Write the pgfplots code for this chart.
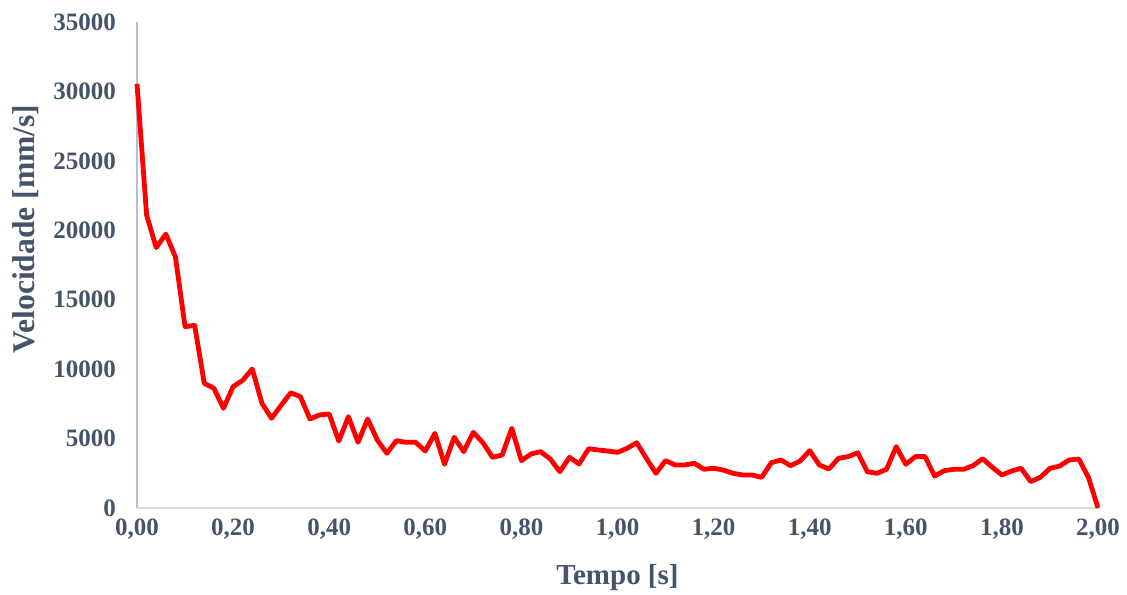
\documentclass[border=0pt]{standalone}
\usepackage{pgfplots}
\pgfplotsset{compat=1.18}
\usepackage{fontspec}
\setmainfont{Liberation Serif}
\definecolor{txt}{HTML}{44546A}
\definecolor{yax}{HTML}{B4C0D2}
\definecolor{xax}{HTML}{D9DDE3}
\begin{document}
\begin{tikzpicture}
\path[use as bounding box] (-68.5pt,-43pt) rectangle (495pt,254pt);
\begin{axis}[
  scale only axis,
  width=480.5pt, height=243pt,
  xmin=0, xmax=2, ymin=0, ymax=35000,
  xtick={0,0.2,0.4,0.6,0.8,1.0,1.2,1.4,1.6,1.8,2.0}, ytick={0,5000,...,35000},
  axis x line*=bottom, axis y line*=left,
  x axis line style={draw=xax, line width=1pt, -},
  y axis line style={draw=yax, line width=1.2pt, -},
  major tick length=0pt,
  scaled y ticks=false, scaled x ticks=false,
  /pgf/number format/assume math mode=true,
  xticklabel style={/pgf/number format/fixed, /pgf/number format/fixed zerofill, /pgf/number format/precision=2, /pgf/number format/use comma, yshift=-2pt},
  yticklabel style={/pgf/number format/1000 sep={}, xshift=-7pt},
  tick label style={font=\fontsize{12.5}{13}\selectfont\bfseries, text=txt},
  xlabel={Tempo [s]}, ylabel={Velocidade [mm/s]},
  label style={font=\fontsize{14.5}{15}\selectfont\bfseries, text=txt},
  xlabel style={at={(rel axis cs:0.5,0)}, anchor=center, yshift=-35pt},
  ylabel style={at={(rel axis cs:0,0.574)}, anchor=center, yshift=55.5pt, font=\fontsize{15.8}{16}\selectfont\bfseries},
  clip=false,
]
\addplot[color=red, line width=2.4pt, line join=round] coordinates {
(0.00,30550) (0.02,21100) (0.04,18750) (0.06,19730) (0.08,18080)
(0.10,13060) (0.12,13150) (0.14,8980) (0.16,8620) (0.18,7180)
(0.20,8740) (0.22,9200) (0.24,10010) (0.26,7540) (0.28,6460)
(0.30,7400) (0.32,8300) (0.34,8020) (0.36,6410) (0.38,6700)
(0.40,6770) (0.42,4820) (0.44,6580) (0.46,4730) (0.48,6410)
(0.50,4900) (0.52,3940) (0.54,4850) (0.56,4730) (0.58,4730)
(0.60,4100) (0.62,5380) (0.64,3150) (0.66,5090) (0.68,4060)
(0.70,5450) (0.72,4700) (0.74,3650) (0.76,3820) (0.78,5740)
(0.80,3410) (0.82,3890) (0.84,4060) (0.86,3530) (0.88,2620)
(0.90,3650) (0.92,3170) (0.94,4270) (0.96,4180) (0.98,4100)
(1.00,4010) (1.02,4300) (1.04,4700) (1.06,3580) (1.08,2500)
(1.10,3410) (1.12,3100) (1.14,3100) (1.16,3220) (1.18,2790)
(1.20,2860) (1.22,2740) (1.24,2500) (1.26,2380) (1.28,2380)
(1.30,2210) (1.32,3260) (1.34,3460) (1.36,3050) (1.38,3380)
(1.40,4130) (1.42,3100) (1.44,2810) (1.46,3580) (1.48,3700)
(1.50,3980) (1.52,2610) (1.54,2500) (1.56,2790) (1.58,4420)
(1.60,3150) (1.62,3700) (1.64,3700) (1.66,2300) (1.68,2690)
(1.70,2790) (1.72,2790) (1.74,3050) (1.76,3550) (1.78,2930)
(1.80,2380) (1.82,2660) (1.84,2860) (1.86,1900) (1.88,2210)
(1.90,2860) (1.92,3020) (1.94,3460) (1.96,3530) (1.98,2210)
(2.00,0)
};
\end{axis}
\end{tikzpicture}
\end{document}
